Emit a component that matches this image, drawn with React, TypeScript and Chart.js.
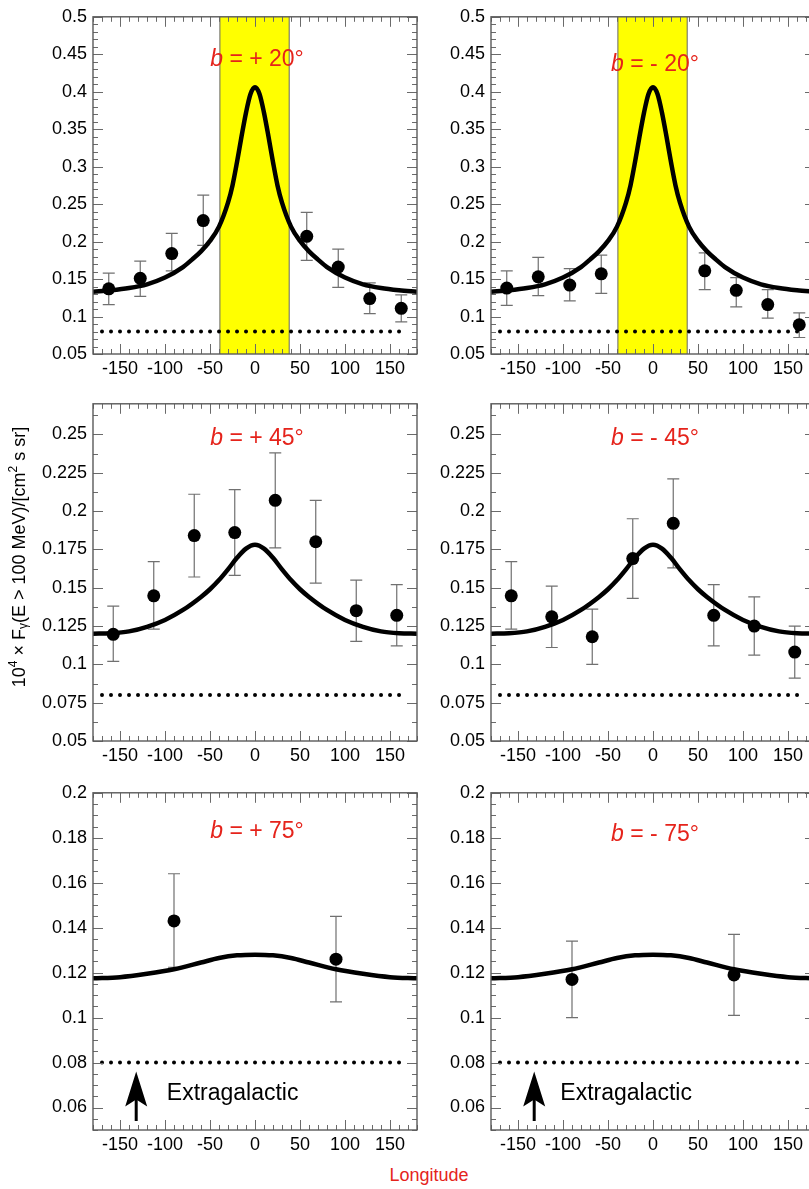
import React, { useEffect, useRef } from 'react';
import { Chart, registerables } from 'chart.js';

Chart.register(...registerables);

const FONT = '"Liberation Sans", Helvetica, Arial, sans-serif';
const RED = '#e5231b';

// ---------- axes ----------
const xTickValues = [-150, -100, -50, 0, 50, 100, 150];
const yTicksB20 = [0.05, 0.1, 0.15, 0.2, 0.25, 0.3, 0.35, 0.4, 0.45, 0.5];
const yTicksB45 = [0.05, 0.075, 0.1, 0.125, 0.15, 0.175, 0.2, 0.225, 0.25];
const yTicksB75 = [0.06, 0.08, 0.1, 0.12, 0.14, 0.16, 0.18, 0.2];

// ---------- extragalactic level ----------
const extragalacticLon = [-170, 170];
const extragalacticFlux = [0.08, 0.08];
const arrowLon = -132;
const arrowFlux = [0.054, 0.076];
const extragalacticLabel = 'Extragalactic';

// ---------- shaded band (|b|=20 panels) ----------
const bandLon = [-39, 38];

// ---------- model curves ----------
const curveLonB20 = [-180, -160, -140, -120, -100, -80, -70, -60, -50, -40, -30, -25, -20, -15, -10, -5, 0, 5, 10, 15, 20, 25, 30, 40, 50, 60, 70, 80, 100, 120, 140, 160, 180];
const curveFluxB20 = [0.133, 0.135, 0.138, 0.143, 0.152, 0.166, 0.176, 0.187, 0.201, 0.22, 0.252, 0.275, 0.306, 0.34, 0.372, 0.397, 0.406, 0.397, 0.372, 0.34, 0.306, 0.275, 0.252, 0.22, 0.201, 0.187, 0.176, 0.166, 0.152, 0.143, 0.138, 0.135, 0.133];

const curveLonB45 = [-180, -160, -140, -120, -100, -80, -60, -50, -40, -30, -20, -10, 0, 10, 20, 30, 40, 50, 60, 80, 100, 120, 140, 160, 180];
const curveFluxB45 = [0.12, 0.1203, 0.1215, 0.1245, 0.129, 0.1355, 0.144, 0.149, 0.155, 0.162, 0.1695, 0.1755, 0.178, 0.1755, 0.1695, 0.162, 0.155, 0.149, 0.144, 0.1355, 0.129, 0.1245, 0.1215, 0.1203, 0.12];

const curveLonB75 = [-180, -150, -120, -90, -60, -40, -20, 0, 20, 40, 60, 90, 120, 150, 180];
const curveFluxB75 = [0.1175, 0.118, 0.1195, 0.1215, 0.1245, 0.1265, 0.1277, 0.128, 0.1277, 0.1265, 0.1245, 0.1215, 0.1195, 0.118, 0.1175];

// ---------- measured points ----------
const lonB20 = [-162.5, -127.5, -92.5, -57.5, 57.5, 92.5, 127.5, 162.5];
const fluxBp20 = [0.137, 0.151, 0.184, 0.228, 0.207, 0.166, 0.124, 0.111];
const loBp20 = [0.116, 0.127, 0.161, 0.195, 0.175, 0.139, 0.104, 0.093];
const hiBp20 = [0.158, 0.174, 0.211, 0.262, 0.239, 0.19, 0.145, 0.129];

const fluxBm20 = [0.138, 0.153, 0.142, 0.157, 0.161, 0.135, 0.116, 0.089];
const loBm20 = [0.115, 0.128, 0.121, 0.131, 0.136, 0.113, 0.098, 0.072];
const hiBm20 = [0.161, 0.179, 0.164, 0.182, 0.185, 0.152, 0.136, 0.105];

const lonB45 = [-157.5, -112.5, -67.5, -22.5, 22.5, 67.5, 112.5, 157.5];
const fluxBp45 = [0.1196, 0.1447, 0.184, 0.186, 0.207, 0.18, 0.135, 0.132];
const loBp45 = [0.102, 0.123, 0.157, 0.158, 0.176, 0.153, 0.115, 0.112];
const hiBp45 = [0.138, 0.167, 0.211, 0.214, 0.238, 0.207, 0.155, 0.152];

const fluxBm45 = [0.1447, 0.131, 0.118, 0.169, 0.192, 0.132, 0.125, 0.108];
const loBm45 = [0.123, 0.111, 0.1, 0.143, 0.163, 0.112, 0.106, 0.091];
const hiBm45 = [0.167, 0.151, 0.136, 0.195, 0.221, 0.152, 0.144, 0.125];

const lonB75 = [-90, 90];
const fluxBp75 = [0.143, 0.126];
const loBp75 = [0.1224, 0.107];
const hiBp75 = [0.164, 0.145];

const fluxBm75 = [0.117, 0.119];
const loBm75 = [0.1, 0.101];
const hiBm75 = [0.134, 0.137];

// ---------- panel titles ----------
const titleSign = ['+ 20°', '- 20°', '+ 45°', '- 45°', '+ 75°', '- 75°'];

const yAxisTitle = ['10', '4', ' × F', 'γ', '(E > 100 MeV)/[cm', '2', ' s sr]'];

type Panel = {
  left: number; top: number;
  yMin: number; yMax: number; yTicks: number[]; yMinor: number; yMajor: number;
  curveLon: number[]; curveFlux: number[];
  lon: number[]; flux: number[]; lo: number[]; hi: number[];
  title: string; titleY: number;
  band?: number[];
  arrow?: boolean; labelLon?: number; labelFlux?: number;
  axisTitle?: boolean;
};

const panels: Panel[] = [
  { left: 0, top: 0, yMin: 0.05, yMax: 0.5, yTicks: yTicksB20, yMinor: 0.01, yMajor: 0.05,
    curveLon: curveLonB20, curveFlux: curveFluxB20, lon: lonB20, flux: fluxBp20, lo: loBp20, hi: hiBp20,
    title: titleSign[0], titleY: 0.443, band: bandLon },
  { left: 398, top: 0, yMin: 0.05, yMax: 0.5, yTicks: yTicksB20, yMinor: 0.01, yMajor: 0.05,
    curveLon: curveLonB20, curveFlux: curveFluxB20, lon: lonB20, flux: fluxBm20, lo: loBm20, hi: hiBm20,
    title: titleSign[1], titleY: 0.436, band: bandLon },
  { left: 0, top: 387, yMin: 0.05, yMax: 0.27, yTicks: yTicksB45, yMinor: 0.0125, yMajor: 0.025,
    curveLon: curveLonB45, curveFlux: curveFluxB45, lon: lonB45, flux: fluxBp45, lo: loBp45, hi: hiBp45,
    title: titleSign[2], titleY: 0.2475, axisTitle: true },
  { left: 398, top: 387, yMin: 0.05, yMax: 0.27, yTicks: yTicksB45, yMinor: 0.0125, yMajor: 0.025,
    curveLon: curveLonB45, curveFlux: curveFluxB45, lon: lonB45, flux: fluxBm45, lo: loBm45, hi: hiBm45,
    title: titleSign[3], titleY: 0.2475 },
  { left: 0, top: 776, yMin: 0.05, yMax: 0.2, yTicks: yTicksB75, yMinor: 0.005, yMajor: 0.02,
    curveLon: curveLonB75, curveFlux: curveFluxB75, lon: lonB75, flux: fluxBp75, lo: loBp75, hi: hiBp75,
    title: titleSign[4], titleY: 0.1828, arrow: true, labelLon: -98, labelFlux: 0.066 },
  { left: 398, top: 776, yMin: 0.05, yMax: 0.2, yTicks: yTicksB75, yMinor: 0.005, yMajor: 0.02,
    curveLon: curveLonB75, curveFlux: curveFluxB75, lon: lonB75, flux: fluxBm75, lo: loBm75, hi: hiBm75,
    title: titleSign[5], titleY: 0.1815, arrow: true, labelLon: -103, labelFlux: 0.066 },
];

const CW = 440;
const CH = 385;

function makePlugin(p: Panel) {
  return {
    id: 'decor',
    beforeDatasetsDraw(chart: any) {
      const { ctx, chartArea: a, scales } = chart;
      const x = scales.x, y = scales.y;
      ctx.save();
      if (p.band) {
        const x0 = x.getPixelForValue(p.band[0]);
        const x1 = x.getPixelForValue(p.band[1]);
        ctx.fillStyle = '#ffff00';
        ctx.fillRect(x0, a.top, x1 - x0, a.bottom - a.top);
        ctx.strokeStyle = '#666';
        ctx.lineWidth = 1;
        ctx.beginPath();
        ctx.moveTo(x0, a.top); ctx.lineTo(x0, a.bottom);
        ctx.moveTo(x1, a.top); ctx.lineTo(x1, a.bottom);
        ctx.stroke();
      }
      ctx.strokeStyle = '#707070';
      ctx.lineWidth = 1.2;
      p.lon.forEach((l, i) => {
        const px = x.getPixelForValue(l);
        const yl = y.getPixelForValue(p.lo[i]);
        const yh = y.getPixelForValue(p.hi[i]);
        ctx.beginPath();
        ctx.moveTo(px, yl); ctx.lineTo(px, yh);
        ctx.moveTo(px - 6, yl); ctx.lineTo(px + 6, yl);
        ctx.moveTo(px - 6, yh); ctx.lineTo(px + 6, yh);
        ctx.stroke();
      });
      ctx.restore();
    },
    afterDraw(chart: any) {
      const { ctx, chartArea: a, scales } = chart;
      const x = scales.x, y = scales.y;
      ctx.save();
      // ticks
      ctx.strokeStyle = '#6a6a6a';
      ctx.lineWidth = 1;
      ctx.beginPath();
      for (let v = -180; v <= 180; v += 10) {
        const px = Math.round(x.getPixelForValue(v)) + 0.5;
        const len = v % 50 === 0 ? 10 : 5;
        ctx.moveTo(px, a.bottom); ctx.lineTo(px, a.bottom - len);
        ctx.moveTo(px, a.top); ctx.lineTo(px, a.top + len);
      }
      const n = Math.floor((p.yMax - p.yMin) / p.yMinor + 1e-6);
      for (let i = 0; i <= n; i++) {
        const v = p.yMin + i * p.yMinor;
        const r = v / p.yMajor;
        const major = Math.abs(r - Math.round(r)) < 1e-6;
        const py = Math.round(y.getPixelForValue(v)) + 0.5;
        const len = major ? 10 : 5;
        ctx.moveTo(a.left, py); ctx.lineTo(a.left + len, py);
        ctx.moveTo(a.right, py); ctx.lineTo(a.right - len, py);
      }
      ctx.stroke();
      // frame
      ctx.strokeStyle = '#5a5a5a';
      ctx.lineWidth = 1.4;
      ctx.strokeRect(a.left, a.top, a.right - a.left, a.bottom - a.top);

      // panel title
      const tx = x.getPixelForValue(0) + 2;
      const ty = y.getPixelForValue(p.titleY);
      ctx.fillStyle = RED;
      ctx.textBaseline = 'middle';
      ctx.textAlign = 'left';
      ctx.font = `italic 23px ${FONT}`;
      const wb = ctx.measureText('b').width;
      ctx.font = `23px ${FONT}`;
      const rest = ' = ' + p.title;
      const wr = ctx.measureText(rest).width;
      const sx = tx - (wb + wr) / 2;
      ctx.font = `italic 23px ${FONT}`;
      ctx.fillText('b', sx, ty);
      ctx.font = `23px ${FONT}`;
      ctx.fillText(rest, sx + wb, ty);

      // extragalactic arrow + label
      if (p.arrow) {
        const ax = x.getPixelForValue(arrowLon);
        const tip = y.getPixelForValue(arrowFlux[1]);
        const base = y.getPixelForValue(arrowFlux[0]);
        ctx.fillStyle = '#000';
        ctx.strokeStyle = '#000';
        ctx.lineWidth = 3;
        ctx.beginPath();
        ctx.moveTo(ax, tip + 26); ctx.lineTo(ax, base);
        ctx.stroke();
        ctx.beginPath();
        ctx.moveTo(ax, tip);
        ctx.lineTo(ax + 11, tip + 35);
        ctx.lineTo(ax, tip + 28);
        ctx.lineTo(ax - 11, tip + 35);
        ctx.closePath();
        ctx.fill();
        ctx.font = `23px ${FONT}`;
        ctx.textAlign = 'left';
        ctx.textBaseline = 'middle';
        ctx.fillText(extragalacticLabel, x.getPixelForValue(p.labelLon), y.getPixelForValue(p.labelFlux));
      }

      // y axis title
      if (p.axisTitle) {
        const big = `18px ${FONT}`;
        const small = `12px ${FONT}`;
        const parts = yAxisTitle.map((t, i) => ({ t, f: (i === 1 || i === 3 || i === 5) ? small : big, dy: i === 1 || i === 5 ? -6 : i === 3 ? 4 : 0 }));
        let total = 0;
        parts.forEach(pt => { ctx.font = pt.f; total += ctx.measureText(pt.t).width; });
        ctx.translate(20, 170);
        ctx.rotate(-Math.PI / 2);
        ctx.fillStyle = '#000';
        ctx.textBaseline = 'middle';
        ctx.textAlign = 'left';
        let cx = -total / 2;
        parts.forEach(pt => {
          ctx.font = pt.f;
          ctx.fillText(pt.t, cx, pt.dy);
          cx += ctx.measureText(pt.t).width;
        });
      }
      ctx.restore();
    },
  };
}

function PanelChart({ p }: { p: Panel }) {
  const ref = useRef<HTMLCanvasElement>(null);
  useEffect(() => {
    if (!ref.current) return;
    const tickFont = { family: FONT, size: 18 };
    const chart = new Chart(ref.current, {
      type: 'scatter',
      data: {
        datasets: [
          {
            data: p.lon.map((l, i) => ({ x: l, y: p.flux[i] })),
            showLine: false,
            pointRadius: 6.5,
            pointBackgroundColor: '#000',
            pointBorderWidth: 0,
            borderColor: '#000',
          },
          {
            data: p.curveLon.map((l, i) => ({ x: l, y: p.curveFlux[i] })),
            showLine: true,
            pointRadius: 0,
            borderColor: '#000',
            borderWidth: 4.5,
            cubicInterpolationMode: 'monotone',
          },
          {
            data: extragalacticLon.map((l, i) => ({ x: l, y: extragalacticFlux[i] })),
            showLine: true,
            pointRadius: 0,
            borderColor: '#000',
            borderWidth: 4,
            borderDash: [0.001, 9],
            borderCapStyle: 'round',
          },
        ] as any,
      },
      options: {
        animation: false,
        responsive: false,
        events: [],
        layout: { padding: { top: 10, right: 23, bottom: 0, left: 0 } },
        plugins: { legend: { display: false }, tooltip: { enabled: false } },
        scales: {
          x: {
            type: 'linear',
            min: -180,
            max: 180,
            afterBuildTicks: (s: any) => { s.ticks = xTickValues.map(v => ({ value: v })); },
            afterFit: (s: any) => { s.height = 31; },
            grid: { display: false, drawTicks: false },
            border: { display: false },
            ticks: { padding: 4, color: '#000', font: tickFont, maxRotation: 0, autoSkip: false, callback: (v: any) => String(v) },
          },
          y: {
            type: 'linear',
            min: p.yMin,
            max: p.yMax,
            afterBuildTicks: (s: any) => { s.ticks = p.yTicks.map(v => ({ value: v })); },
            afterFit: (s: any) => { s.width = 93; },
            grid: { display: false, drawTicks: false },
            border: { display: false },
            ticks: { padding: 6, color: '#000', font: tickFont, autoSkip: false, callback: (v: any) => String(v) },
          },
        },
      } as any,
      plugins: [makePlugin(p)],
    });
    return () => chart.destroy();
  }, [p]);
  return (
    <div style={{ position: 'absolute', left: p.left, top: p.top, width: CW, height: CH }}>
      <canvas ref={ref} width={CW} height={CH} style={{ display: 'block' }} />
    </div>
  );
}

export default function App() {
  return (
    <div style={{ position: 'absolute', left: 0, top: 0, width: 809, height: 1189, overflow: 'hidden', background: '#fff' }}>
      {panels.map((p, i) => <PanelChart key={i} p={p} />)}
      <div style={{ position: 'absolute', left: 329, top: 1166, width: 200, textAlign: 'center', color: RED, font: `18px ${FONT}`, lineHeight: '18px' }}>
        Longitude
      </div>
    </div>
  );
}
